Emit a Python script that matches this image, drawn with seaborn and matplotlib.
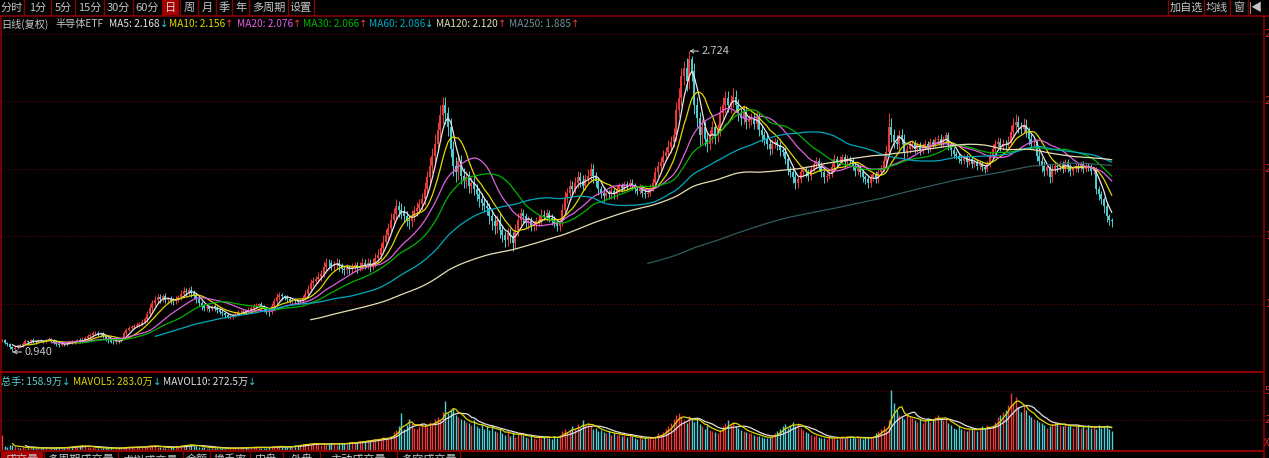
import numpy as np
import pandas as pd
import matplotlib
matplotlib.use("Agg")
import matplotlib.pyplot as plt
import seaborn as sns

# --- DATA (daily bars; volume in 万手) ---
closes = [
    1.010, 0.995, 0.985, 0.970, 0.958, 0.965, 0.980, 0.975, 0.990, 1.005,
    0.998, 1.012, 1.005, 0.998, 1.010, 1.008, 1.002, 1.012, 1.018, 1.010,
    0.995, 0.985, 0.980, 0.990, 0.985, 0.995, 1.002, 0.998, 1.005, 1.010,
    1.004, 1.012, 1.022, 1.032, 1.040, 1.050, 1.055, 1.045, 1.050, 1.035,
    1.020, 1.010, 1.002, 0.998, 1.008, 1.005, 1.018, 1.050, 1.070, 1.085,
    1.090, 1.095, 1.100, 1.108, 1.120, 1.135, 1.165, 1.200, 1.230, 1.250,
    1.265, 1.255, 1.270, 1.250, 1.255, 1.245, 1.240, 1.255, 1.265, 1.285,
    1.300, 1.295, 1.310, 1.290, 1.280, 1.255, 1.230, 1.210, 1.200, 1.205,
    1.195, 1.210, 1.200, 1.190, 1.180, 1.170, 1.160, 1.150, 1.150, 1.160,
    1.165, 1.175, 1.180, 1.185, 1.178, 1.190, 1.200, 1.210, 1.215, 1.222,
    1.210, 1.195, 1.180, 1.175, 1.210, 1.240, 1.265, 1.280, 1.270, 1.265,
    1.253, 1.245, 1.250, 1.240, 1.237, 1.240, 1.260, 1.285, 1.315, 1.350,
    1.360, 1.370, 1.385, 1.405, 1.445, 1.470, 1.465, 1.450, 1.455, 1.470,
    1.450, 1.435, 1.425, 1.440, 1.430, 1.445, 1.455, 1.440, 1.450, 1.465,
    1.455, 1.470, 1.445, 1.470, 1.495, 1.515, 1.555, 1.595, 1.635, 1.675,
    1.725, 1.760, 1.805, 1.785, 1.770, 1.745, 1.725, 1.715, 1.745, 1.775,
    1.795, 1.815, 1.845, 1.905, 1.975, 2.045, 2.105, 2.175, 2.255, 2.345,
    2.405, 2.355, 2.275, 2.145, 2.045, 2.005, 2.075, 1.985, 1.955, 1.975,
    1.925, 1.945, 1.905, 1.875, 1.845, 1.825, 1.805, 1.795, 1.745, 1.715,
    1.685, 1.725, 1.665, 1.635, 1.605, 1.645, 1.625, 1.585, 1.665, 1.725,
    1.765, 1.745, 1.705, 1.715, 1.685, 1.695, 1.715, 1.725, 1.755, 1.745,
    1.765, 1.735, 1.725, 1.705, 1.685, 1.705, 1.785, 1.855, 1.885, 1.925,
    1.905, 1.945, 1.975, 1.955, 1.925, 1.965, 1.985, 2.025, 1.985, 1.955,
    1.905, 1.885, 1.865, 1.885, 1.875, 1.895, 1.875, 1.905, 1.925, 1.915,
    1.935, 1.925, 1.945, 1.925, 1.905, 1.895, 1.915, 1.885, 1.875, 1.885,
    1.915, 1.945, 2.005, 2.045, 2.065, 2.105, 2.125, 2.155, 2.185, 2.225,
    2.375, 2.445, 2.575, 2.625, 2.545, 2.675, 2.605, 2.405, 2.325, 2.225,
    2.275, 2.205, 2.175, 2.225, 2.275, 2.225, 2.255, 2.355, 2.405, 2.445,
    2.405, 2.425, 2.455, 2.405, 2.355, 2.325, 2.365, 2.305, 2.315, 2.325,
    2.295, 2.335, 2.255, 2.225, 2.205, 2.175, 2.145, 2.175, 2.185, 2.165,
    2.135, 2.125, 2.085, 2.025, 2.005, 1.975, 1.945, 1.965, 2.005, 2.025,
    2.005, 1.985, 2.025, 2.055, 2.075, 2.045, 2.005, 1.975, 1.985, 1.995,
    2.035, 2.085, 2.065, 2.075, 2.095, 2.065, 2.085, 2.075, 2.045, 2.015,
    2.035, 2.005, 1.975, 1.965, 1.945, 1.975, 1.995, 1.965, 2.005, 2.025,
    2.075, 2.125, 2.275, 2.225, 2.185, 2.175, 2.225, 2.205, 2.125, 2.145,
    2.165, 2.175, 2.145, 2.165, 2.135, 2.155, 2.175, 2.145, 2.185, 2.175,
    2.195, 2.205, 2.175, 2.205, 2.225, 2.165, 2.135, 2.115, 2.105, 2.085,
    2.075, 2.095, 2.065, 2.085, 2.055, 2.065, 2.045, 2.055, 2.035, 2.025,
    2.055, 2.105, 2.145, 2.175, 2.185, 2.155, 2.175, 2.165, 2.185, 2.245,
    2.285, 2.305, 2.275, 2.265, 2.285, 2.245, 2.205, 2.175, 2.175, 2.105,
    2.075, 2.045, 2.015, 2.035, 1.975, 2.025, 2.045, 2.035, 2.055, 2.025,
    2.065, 2.035, 2.015, 2.025, 2.045, 2.035, 2.055, 2.025, 2.045, 2.035,
    2.015, 2.025, 1.905, 1.875, 1.845, 1.805, 1.745, 1.725, 1.715,
]

# upper / lower shadows: how far each day's high / low reached past its body
upper_shadow = [
    .010, .008, .006, .010, .008, .012, .006, .010, .008, .012,
    .006, .008, .010, .006, .008, .010, .006, .008, .010, .006,
    .008, .006, .010, .008, .006, .010, .012, .008, .006, .010,
    .012, .015, .010, .012, .010, .015, .012, .010, .008, .010,
    .008, .006, .010, .008, .010, .006, .012, .015, .012, .010,
    .012, .010, .015, .012, .018, .015, .020, .025, .018, .022,
    .020, .018, .015, .020, .012, .015, .018, .020, .015, .022,
    .025, .020, .018, .022, .015, .012, .015, .010, .012, .015,
    .012, .010, .015, .010, .012, .008, .010, .012, .010, .008,
    .010, .012, .008, .010, .012, .015, .010, .012, .015, .010,
    .012, .010, .008, .015, .020, .018, .022, .015, .012, .010,
    .012, .015, .010, .012, .010, .015, .018, .020, .022, .025,
    .025, .020, .030, .022, .035, .025, .020, .018, .022, .025,
    .020, .018, .015, .020, .018, .025, .020, .018, .022, .030,
    .025, .030, .020, .025, .030, .035, .030, .040, .035, .030,
    .040, .035, .045, .030, .040, .035, .030, .025, .035, .030,
    .035, .030, .040, .045, .040, .050, .045, .055, .050, .060,
    .045, .050, .040, .055, .045, .050, .040, .035, .045, .040,
    .040, .035, .045, .030, .035, .040, .030, .035, .030, .040,
    .035, .030, .040, .030, .025, .035, .030, .025, .035, .040,
    .030, .025, .020, .030, .025, .020, .025, .030, .035, .025,
    .025, .020, .025, .020, .018, .025, .035, .040, .030, .035,
    .030, .035, .040, .030, .035, .030, .040, .035, .030, .025,
    .025, .020, .025, .020, .018, .022, .020, .025, .020, .018,
    .020, .018, .022, .020, .015, .018, .020, .015, .018, .020,
    .020, .025, .030, .025, .030, .035, .030, .040, .035, .045,
    .050, .060, .050, .040, .060, .049, .020, .050, .045, .040,
    .045, .035, .040, .030, .035, .030, .035, .045, .050, .040,
    .045, .040, .050, .040, .035, .030, .040, .035, .030, .035,
    .030, .035, .025, .030, .025, .030, .025, .030, .025, .020,
    .025, .020, .030, .025, .020, .025, .030, .020, .025, .020,
    .020, .018, .025, .020, .022, .018, .020, .015, .018, .020,
    .025, .030, .020, .025, .022, .020, .025, .018, .020, .015,
    .018, .015, .020, .015, .018, .020, .015, .018, .020, .025,
    .030, .040, .080, .050, .035, .040, .030, .035, .030, .025,
    .025, .020, .025, .020, .018, .022, .020, .018, .025, .020,
    .022, .020, .025, .018, .022, .020, .018, .020, .015, .018,
    .015, .018, .020, .015, .018, .015, .020, .015, .018, .015,
    .020, .025, .030, .025, .030, .025, .030, .025, .035, .040,
    .040, .045, .035, .030, .040, .035, .030, .025, .030, .025,
    .025, .020, .025, .020, .018, .022, .025, .020, .018, .020,
    .022, .020, .018, .020, .022, .018, .020, .018, .020, .015,
    .018, .020, .015, .020, .018, .015, .020, .015, .012,
]
lower_shadow = [
    .008, .010, .012, .015, .018, .008, .010, .006, .008, .010,
    .008, .006, .010, .008, .006, .008, .010, .006, .008, .010,
    .010, .012, .008, .006, .010, .008, .006, .010, .008, .006,
    .008, .010, .006, .008, .010, .012, .010, .012, .015, .012,
    .012, .015, .010, .012, .008, .010, .008, .006, .010, .008,
    .010, .012, .008, .010, .012, .010, .015, .012, .018, .015,
    .020, .022, .018, .020, .025, .018, .022, .015, .018, .015,
    .018, .020, .015, .022, .020, .025, .018, .020, .015, .018,
    .015, .012, .015, .018, .012, .015, .012, .010, .015, .012,
    .010, .012, .010, .008, .012, .010, .012, .008, .010, .012,
    .015, .018, .015, .020, .012, .015, .012, .018, .020, .015,
    .018, .015, .020, .015, .018, .012, .015, .012, .015, .018,
    .020, .025, .018, .022, .020, .030, .035, .025, .030, .025,
    .030, .025, .030, .022, .025, .020, .025, .030, .022, .025,
    .020, .025, .030, .020, .025, .020, .025, .030, .025, .030,
    .030, .035, .030, .045, .040, .035, .040, .045, .035, .030,
    .030, .035, .030, .035, .040, .035, .045, .040, .050, .045,
    .050, .060, .055, .050, .060, .055, .045, .050, .045, .040,
    .045, .040, .035, .040, .045, .040, .035, .040, .045, .050,
    .045, .040, .050, .045, .040, .035, .040, .045, .030, .035,
    .035, .040, .030, .035, .030, .025, .030, .025, .030, .025,
    .030, .025, .030, .025, .030, .025, .020, .025, .030, .025,
    .030, .025, .030, .035, .030, .025, .030, .035, .040, .035,
    .035, .030, .035, .025, .030, .025, .030, .025, .020, .025,
    .020, .025, .020, .025, .020, .025, .020, .025, .020, .018,
    .020, .018, .025, .030, .025, .030, .025, .030, .035, .030,
    .035, .040, .045, .050, .055, .045, .060, .055, .050, .060,
    .050, .045, .050, .040, .045, .050, .040, .035, .040, .045,
    .040, .045, .035, .040, .045, .040, .035, .040, .035, .030,
    .035, .030, .035, .040, .035, .030, .035, .030, .025, .030,
    .030, .025, .030, .035, .030, .035, .040, .030, .025, .030,
    .025, .030, .025, .020, .025, .030, .025, .030, .025, .020,
    .020, .025, .020, .018, .020, .025, .020, .018, .025, .030,
    .025, .030, .025, .030, .035, .025, .020, .025, .020, .018,
    .020, .025, .030, .040, .035, .030, .035, .030, .040, .030,
    .025, .020, .025, .020, .025, .020, .018, .025, .020, .018,
    .020, .018, .022, .020, .018, .025, .030, .025, .022, .025,
    .020, .022, .025, .018, .022, .020, .025, .022, .020, .025,
    .020, .018, .020, .022, .018, .025, .020, .022, .018, .020,
    .025, .030, .035, .030, .025, .030, .035, .030, .025, .035,
    .030, .035, .030, .025, .035, .025, .030, .025, .020, .025,
    .020, .025, .030, .025, .020, .025, .020, .025, .020, .022,
    .025, .020, .030, .035, .030, .040, .035, .030, .035,
]

volumes = [
    127, 35, 28, 40, 45, 30, 22, 18, 25, 20,
    15, 18, 22, 16, 14, 20, 18, 15, 12, 16,
    22, 25, 18, 15, 20, 26, 30, 35, 28, 32,
    38, 42, 30, 25, 28, 22, 18, 20, 15, 17,
    14, 16, 18, 12, 15, 17, 20, 25, 28, 22,
    24, 20, 26, 30, 25, 28, 35, 42, 38, 30,
    26, 22, 25, 20, 18, 22, 25, 30, 35, 40,
    45, 38, 42, 50, 36, 30, 28, 25, 22, 20,
    18, 22, 20, 16, 15, 18, 14, 12, 16, 15,
    18, 20, 17, 22, 25, 20, 18, 24, 28, 22,
    20, 18, 16, 22, 30, 35, 32, 28, 25, 22,
    25, 30, 35, 40, 38, 45, 50, 55, 48, 52,
    60, 55, 50, 45, 52, 48, 55, 60, 50, 45,
    55, 62, 58, 50, 65, 70, 60, 68, 75, 72,
    80, 85, 78, 90, 95, 88, 100, 110, 95, 105,
    120, 150, 170, 200, 313, 180, 210, 260, 230, 190,
    175, 200, 230, 210, 195, 240, 220, 260, 280, 250,
    320, 415, 313, 340, 360, 300, 280, 260, 250, 240,
    230, 210, 250, 200, 190, 220, 180, 200, 170, 210,
    160, 150, 180, 140, 130, 160, 120, 150, 110, 140,
    125, 130, 110, 100, 120, 105, 95, 115, 100, 110,
    120, 105, 95, 115, 100, 130, 160, 180, 150, 170,
    200, 180, 220, 190, 250, 210, 230, 200, 180, 190,
    160, 170, 150, 140, 160, 130, 145, 125, 135, 120,
    130, 110, 125, 115, 100, 95, 110, 90, 105, 100,
    110, 95, 120, 140, 130, 150, 180, 200, 230, 260,
    300, 313, 280, 250, 230, 290, 270, 240, 260, 220,
    200, 180, 210, 170, 160, 150, 140, 170, 200, 230,
    250, 210, 240, 200, 190, 170, 160, 150, 140, 145,
    130, 120, 115, 110, 100, 105, 110, 120, 140, 160,
    180, 200, 220, 190, 210, 240, 200, 230, 190, 170,
    150, 140, 130, 120, 125, 110, 105, 100, 95, 110,
    100, 105, 95, 110, 120, 100, 115, 105, 110, 100,
    110, 100, 95, 105, 110, 100, 120, 140, 160, 180,
    200, 170, 250, 508, 400, 339, 300, 280, 260, 300,
    280, 270, 250, 240, 260, 230, 250, 270, 240, 260,
    280, 300, 260, 250, 270, 230, 210, 190, 180, 200,
    180, 170, 160, 180, 190, 170, 160, 180, 200, 190,
    210, 180, 200, 240, 280, 300, 320, 340, 380, 483,
    400, 450, 364, 320, 380, 339, 300, 280, 260, 250,
    240, 230, 210, 190, 200, 220, 240, 230, 210, 200,
    220, 200, 210, 190, 200, 210, 190, 200, 180, 210,
    190, 200, 180, 210, 190, 200, 210, 180, 158.9,
]

ma_windows = [5, 10, 20, 30, 60, 120, 250]
ma_legend_values = [2.168, 2.156, 2.076, 2.066, 2.086, 2.120, 1.885]
ma_legend_trend = ["↓", "↑", "↑", "↑", "↓", "↑", "↑"]
vol_legend = [("总手", 158.9, "↓"), ("MAVOL5", 283.0, "↓"), ("MAVOL10", 272.5, "↓")]
price_grid = [2.826, 2.428, 2.025, 1.628, 1.225]
vol_grid = [500, 250]
period_tabs = ["分时", "1分", "5分", "15分", "30分", "60分", "日", "周", "月", "季", "年", "多周期", "设置"]
tool_tabs = ["加自选", "均线", "窗", "|◀"]
vol_tabs = ["成交量", "多周期成交量", "虚拟成交量", "金额", "换手率", "内盘", "外盘", "主动成交量", "多空成交量"]

# --- STYLE ---
sns.set_theme(style="dark", rc={"axes.facecolor": "black", "figure.facecolor": "black"})
plt.rcParams["font.family"] = ["Noto Sans CJK SC", "DejaVu Sans"]

UP, DOWN = "#ee3b3b", "#4fcfd4"
ma_colors = ["#e6e6e6", "#e0d800", "#e060e0", "#00b400", "#00a8c0", "#e6dfb4", "#2f5c60"]
GRID = "#6e0000"
FRAME = "#8b0000"
TXT = "#c4c4c4"

W, H = 1269, 458
fig = plt.figure(figsize=(W / 100, H / 100), dpi=100, facecolor="black")


def px_rect(left, top, right, bottom):
    return [left / W, 1 - bottom / H, (right - left) / W, (bottom - top) / H]


df = pd.DataFrame({"close": closes, "volume": volumes,
                   "up_sh": upper_shadow, "lo_sh": lower_shadow})
df["idx"] = np.arange(len(df))
# ETF opens sit right at the prior close
df["open"] = df["close"].shift(1).fillna(df["close"].iloc[0])
df["body_lo"] = df[["open", "close"]].min(axis=1)
df["body_hi"] = df[["open", "close"]].max(axis=1)
df["high"] = df["body_hi"] + df["up_sh"]
df["low"] = df["body_lo"] - df["lo_sh"]
df["up"] = df["close"] >= df["open"]
for w in ma_windows:
    df[f"ma{w}"] = df["close"].rolling(w).mean()
df["mavol5"] = df["volume"].rolling(5).mean()
df["mavol10"] = df["volume"].rolling(10).mean()
bar_colors = np.where(df["up"], UP, DOWN)
xlim = (-0.77, 486.3)

# --- PRICE PANEL ---
ax = fig.add_axes(px_rect(0, 16, 1263, 372))
for g in price_grid:
    ax.axhline(g, color=GRID, linestyle=(0, (1, 2)), linewidth=0.8, zorder=1)
ax.vlines(df["idx"], df["low"], df["high"], colors=bar_colors, linewidth=0.7, zorder=2)
ax.vlines(df["idx"], df["body_lo"], df["body_hi"], colors=bar_colors, linewidth=1.4, zorder=2)
for w, col in zip(ma_windows, ma_colors):
    sns.lineplot(data=df, x="idx", y=f"ma{w}", ax=ax, color=col, linewidth=0.9,
                 estimator=None, legend=False, zorder=3)

pk = df["high"].idxmax()
tr = df["low"].idxmin()
for i, v in [(pk, df.loc[pk, "high"]), (tr, df.loc[tr, "low"])]:
    ax.annotate(f"{v:.3f}", xy=(i, v), xytext=(9, 0), textcoords="offset points",
                color=TXT, fontsize=8, va="center", ha="left",
                arrowprops=dict(arrowstyle="->", color=TXT, lw=0.8, shrinkA=0, shrinkB=0,
                                mutation_scale=6))
ax.set_xlim(*xlim)
ax.set_ylim(0.8214, 2.9325)

# --- VOLUME PANEL ---
axv = fig.add_axes(px_rect(0, 372, 1263, 450))
for g in vol_grid:
    axv.axhline(g, color=GRID, linestyle=(0, (1, 2)), linewidth=0.8, zorder=1)
axv.vlines(df["idx"], 0, df["volume"], colors=bar_colors, linewidth=1.0, zorder=2)
sns.lineplot(data=df, x="idx", y="mavol10", ax=axv, color="#e0e0e0", linewidth=0.9,
             estimator=None, legend=False, zorder=3)
sns.lineplot(data=df, x="idx", y="mavol5", ax=axv, color="#e0d800", linewidth=0.9,
             estimator=None, legend=False, zorder=3)
axv.set_xlim(*xlim)
axv.set_ylim(0, 661)

for a in (ax, axv):
    a.set_facecolor("black")
    a.set_xlabel("")
    a.set_ylabel("")
    a.set_xticks([])
    a.set_yticks([])
    for s in a.spines.values():
        s.set_visible(False)

# --- SCREEN CHROME (pixel coordinates) ---
ui = fig.add_axes([0, 0, 1, 1], facecolor="none", zorder=5)
ui.set_xlim(0, W)
ui.set_ylim(H, 0)
ui.axis("off")

ui.plot([0, W], [15.5, 15.5], color=FRAME, lw=1.2)
ui.plot([0, 1263], [372, 372], color=FRAME, lw=1.6)
ui.plot([0, 1263], [450.5, 450.5], color=FRAME, lw=1.6)
ui.plot([1263.5, 1263.5], [16, H], color=FRAME, lw=1.2)
ui.plot([0.6, 0.6], [16, 450], color=FRAME, lw=1.2)

tab_edges = [0, 24, 51, 75, 104, 133, 162, 180, 198, 216, 232, 249, 288, 314]
for k, name in enumerate(period_tabs):
    l, r = tab_edges[k], tab_edges[k + 1]
    if name == "日":
        ui.fill_between([l + 1, r - 1], 0, 15, color="#a80000", lw=0)
    ui.text((l + r) / 2, 7.5, name, color="#dcdcdc" if name == "日" else TXT,
            fontsize=8, ha="center", va="center")
    ui.plot([r, r], [0, 15], color=FRAME, lw=1)

tool_edges = [1168, 1204, 1230, 1248, 1264]
for k, name in enumerate(tool_tabs):
    l, r = tool_edges[k], tool_edges[k + 1]
    ui.text((l + r) / 2, 7.5, name, color=TXT, fontsize=8, ha="center", va="center")
    ui.plot([l, l], [0, 15], color=FRAME, lw=1)


def chain(x, y, parts, size=7.3):
    t = ui.text(x, y, parts[0][0], color=parts[0][1], fontsize=size, ha="left", va="center")
    for s, c in parts[1:]:
        t = ui.annotate(s, xy=(1, 0.5), xycoords=t, color=c, fontsize=size, ha="left", va="center",
                        family="DejaVu Sans")
    return t


chain(1, 24, [("日线(复权)", TXT)])
chain(55, 24, [("半导体ETF", TXT)])
ma_x = [109, 169, 237, 303, 369, 436, 509]
for w, v, trd, col, x in zip(ma_windows, ma_legend_values, ma_legend_trend, ma_colors, ma_x):
    col = "#6f8f92" if w == 250 else col
    chain(x, 24, [(f"MA{w}: {v:.3f}", col), (trd, UP if trd == "↑" else "#2fd0c8")])

vol_x = [1, 73, 163]
vol_cols = ["#5fd0d4", "#e0d800", "#e0e0e0"]
for (name, v, trd), x, col in zip(vol_legend, vol_x, vol_cols):
    chain(x, 382, [(f"{name}: {v:.1f}万", col), (trd, "#2fd0c8")])

for g in price_grid:
    ypx = (3.0274 - g) / 0.00593
    ui.text(1265, ypx, f"{g:.3f}", color="#c83030", fontsize=8, ha="left", va="center")
for g in vol_grid:
    ypx = 450 - g / 8.47
    ui.text(1265, ypx, f"{g}", color="#c83030", fontsize=8, ha="left", va="center")
ui.text(1264, 443, "X", color="#c83030", fontsize=7, ha="left", va="center")

vtab_edges = [0, 44, 118, 183, 210, 250, 283, 320, 397, 460]
for k, name in enumerate(vol_tabs):
    l, r = vtab_edges[k], vtab_edges[k + 1]
    if k == 0:
        ui.fill_between([l + 1, r - 1], 451, H, color="#a80000", lw=0)
    ui.text((l + r) / 2, 460, name, color=TXT, fontsize=8, ha="center", va="center", clip_on=False)
    ui.plot([r, r], [451, H], color=FRAME, lw=1)

fig.savefig("out.png", dpi=100, facecolor="black")
